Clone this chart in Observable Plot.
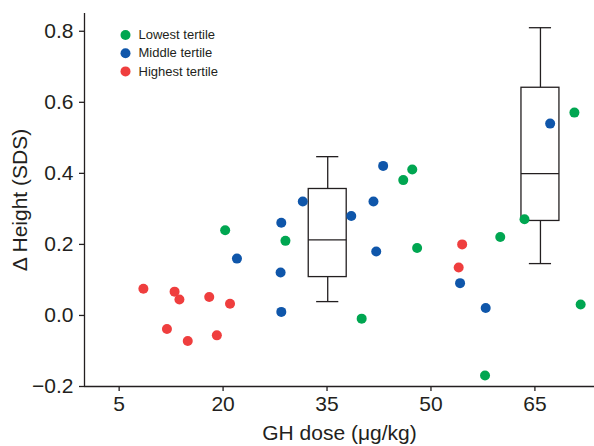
<!DOCTYPE html>
<html>
<head>
<meta charset="utf-8">
<script src="https://cdn.jsdelivr.net/npm/d3@7"></script>
<script src="https://cdn.jsdelivr.net/npm/@observablehq/plot@0.6"></script>
<style>
  html, body { margin: 0; padding: 0; background: #fff; }
  #chart svg { display: block; }
</style>
</head>
<body>
<div id="chart"></div>
<script>
// ---- data ----
const seriesNames = ["Lowest tertile", "Middle tertile", "Highest tertile"];
const seriesColors = ["#00a651", "#0f56aa", "#ef3e3e"];

const lowestX = [20.3, 29.0, 40.0, 46.0, 47.3, 48.0, 57.8, 60.0, 63.5, 70.7, 71.6];
const lowestY = [0.24, 0.21, -0.009, 0.381, 0.411, 0.19, -0.169, 0.221, 0.271, 0.571, 0.031];

const middleX = [22.0, 28.4, 28.3, 28.4, 31.5, 38.5, 41.7, 43.1, 42.1, 54.2, 57.9, 67.2];
const middleY = [0.16, 0.261, 0.121, 0.01, 0.321, 0.28, 0.321, 0.421, 0.18, 0.091, 0.021, 0.54];

const highestX = [8.5, 13.0, 13.7, 11.9, 14.9, 18.0, 19.1, 21.0, 54.0, 54.5];
const highestY = [0.075, 0.067, 0.045, -0.038, -0.072, 0.052, -0.056, 0.033, 0.135, 0.2];

const boxX = [35.1, 65.8];
const boxLow = [0.039, 0.146];
const boxQ1 = [0.108, 0.266];
const boxMedian = [0.213, 0.399];
const boxQ3 = [0.356, 0.641];
const boxHigh = [0.447, 0.81];

const xTicks = [5, 20, 35, 50, 65];
const yTicks = [-0.2, 0, 0.2, 0.4, 0.6, 0.8];

// ---- build tables ----
const points = [
  ...lowestX.map((x, i) => ({x, y: lowestY[i], s: seriesNames[0]})),
  ...middleX.map((x, i) => ({x, y: middleY[i], s: seriesNames[1]})),
  ...highestX.map((x, i) => ({x, y: highestY[i], s: seriesNames[2]}))
];
const boxes = boxX.map((x, i) => ({x, low: boxLow[i], q1: boxQ1[i], med: boxMedian[i], q3: boxQ3[i], high: boxHigh[i]}));

const boxHalf = 2.74;   // half box width in x units
const capHalf = 1.6;    // half whisker cap width
const ink = "#231f20";

const legendMarks = seriesNames.flatMap((s, i) => [
  Plot.dot([s], {frameAnchor: "top-left", dx: 41, dy: 21.5 + i * 18.2, r: 5, fill: seriesColors[i], stroke: "none"}),
  Plot.text([s], {frameAnchor: "top-left", dx: 54, dy: 21.5 + i * 18.2, text: d => d, textAnchor: "start", fontSize: 13, fill: ink, lineAnchor: "middle"})
]);

const chart = Plot.plot({
  width: 594,
  height: 446,
  marginLeft: 84,
  marginRight: 0,
  marginTop: 13,
  marginBottom: 60,
  style: {fontFamily: "'Liberation Sans', Arial, Helvetica, sans-serif", fontSize: "21px", color: ink, background: "#fff"},
  x: {domain: [0, 73.6]},
  y: {domain: [-0.2, 0.85]},
  color: {domain: seriesNames, range: seriesColors},
  marks: [
    Plot.axisX({ticks: xTicks, tickSize: 5, tickPadding: 5, tickFormat: d => String(d), label: "GH dose (\u03bcg/kg)", labelAnchor: "center", labelArrow: "none", labelOffset: 53, fontSize: 21, stroke: ink, strokeWidth: 1.3}),
    Plot.axisY({ticks: yTicks, tickSize: 5, tickPadding: 6, tickFormat: d3.format(".1f"), label: "\u0394 Height (SDS)", labelAnchor: "center", labelArrow: "none", labelOffset: 72, fontSize: 21, stroke: ink, strokeWidth: 1.3}),
    Plot.ruleX([0], {stroke: ink, strokeWidth: 1.3}),
    Plot.ruleY([-0.2], {stroke: ink, strokeWidth: 1.3}),
    // box plots
    Plot.ruleX(boxes, {x: "x", y1: "low", y2: "q1", stroke: ink, strokeWidth: 1.3}),
    Plot.ruleX(boxes, {x: "x", y1: "q3", y2: "high", stroke: ink, strokeWidth: 1.3}),
    Plot.ruleY(boxes, {y: "low", x1: d => d.x - capHalf, x2: d => d.x + capHalf, stroke: ink, strokeWidth: 1.3}),
    Plot.ruleY(boxes, {y: "high", x1: d => d.x - capHalf, x2: d => d.x + capHalf, stroke: ink, strokeWidth: 1.3}),
    Plot.rect(boxes, {x1: d => d.x - boxHalf, x2: d => d.x + boxHalf, y1: "q1", y2: "q3", fill: "white", stroke: ink, strokeWidth: 1.3}),
    Plot.ruleY(boxes, {y: "med", x1: d => d.x - boxHalf, x2: d => d.x + boxHalf, stroke: ink, strokeWidth: 1.3}),
    // points
    Plot.dot(points, {x: "x", y: "y", fill: "s", r: 5, stroke: "none"}),
    ...legendMarks
  ]
});
document.getElementById("chart").appendChild(chart);
</script>
</body>
</html>
